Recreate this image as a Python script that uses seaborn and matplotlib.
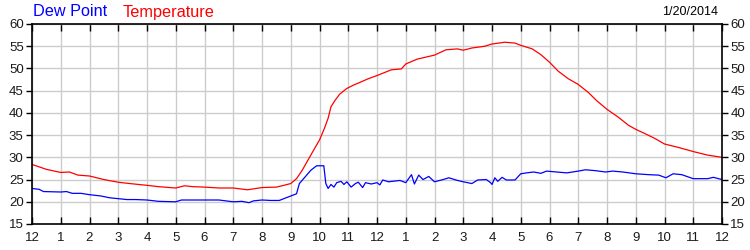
import matplotlib
matplotlib.use("Agg")
import matplotlib.pyplot as plt
import seaborn as sns
import pandas as pd

temp_hours = [0.0, 0.5, 1.0, 1.3, 1.6, 2.0, 2.5, 3.0, 3.4, 4.0, 4.4, 5.0, 5.3, 5.6, 6.0,
              6.5, 7.0, 7.5, 8.0, 8.5, 8.7, 9.0, 9.2, 9.4, 9.6, 9.83, 10.0, 10.17, 10.3,
              10.4, 10.55, 10.7, 10.95, 11.2, 11.35, 11.7, 12.0, 12.5, 12.85, 13.0, 13.4,
              14.0, 14.4, 14.8, 15.0, 15.3, 15.75, 16.0, 16.45, 16.8, 17.0, 17.4, 17.7,
              18.0, 18.3, 18.65, 19.0, 19.35, 19.65, 20.0, 20.4, 20.75, 21.0, 21.3, 21.65,
              22.0, 22.5, 23.0, 23.5, 24.0]
temp_values = [28.4, 27.3, 26.6, 26.7, 26.0, 25.8, 25.0, 24.4, 24.1, 23.7, 23.4, 23.1, 23.6,
               23.4, 23.3, 23.1, 23.1, 22.7, 23.2, 23.3, 23.6, 24.1, 25.2, 27.1, 29.4, 32.0,
               33.9, 36.5, 38.8, 41.4, 42.9, 44.2, 45.5, 46.3, 46.7, 47.7, 48.4, 49.7, 49.9,
               51.0, 52.1, 53.0, 54.2, 54.4, 54.1, 54.6, 55.0, 55.5, 55.9, 55.7, 55.2, 54.4,
               53.1, 51.4, 49.4, 47.7, 46.4, 44.6, 42.7, 40.8, 39.0, 37.2, 36.3, 35.4, 34.3,
               33.0, 32.2, 31.3, 30.5, 30.0]

dew_hours = [0.0, 0.25, 0.4, 1.0, 1.2, 1.4, 1.7, 2.0, 2.4, 2.7, 3.0, 3.3, 3.6, 4.0, 4.4,
             5.0, 5.2, 6.0, 6.5, 7.0, 7.3, 7.55, 7.7, 8.0, 8.3, 8.6, 8.8, 9.0, 9.2, 9.3,
             9.5, 9.7, 9.9, 10.15, 10.22, 10.3, 10.4, 10.5, 10.6, 10.75, 10.85, 10.95,
             11.1, 11.25, 11.35, 11.5, 11.6, 11.8, 12.0, 12.1, 12.2, 12.4, 12.8, 13.0,
             13.2, 13.3, 13.45, 13.6, 13.8, 14.0, 14.3, 14.5, 14.8, 15.0, 15.3, 15.5,
             15.8, 15.95, 16.0, 16.1, 16.2, 16.35, 16.5, 16.8, 17.0, 17.2, 17.45, 17.7,
             17.9, 18.25, 18.6, 19.0, 19.25, 19.6, 19.95, 20.2, 20.55, 21.0, 21.45, 21.8,
             22.05, 22.3, 22.6, 23.0, 23.5, 23.7, 24.0]
dew_values = [23.0, 22.8, 22.3, 22.2, 22.3, 21.9, 21.9, 21.6, 21.3, 20.9, 20.7, 20.5, 20.5,
              20.4, 20.1, 20.0, 20.4, 20.4, 20.4, 20.0, 20.1, 19.8, 20.2, 20.4, 20.3, 20.3,
              20.8, 21.3, 21.8, 24.1, 25.6, 27.1, 28.1, 28.1, 24.1, 23.0, 23.9, 23.3, 24.3,
              24.6, 23.9, 24.5, 23.3, 24.1, 24.4, 23.2, 24.3, 24.0, 24.3, 23.8, 24.9, 24.5,
              24.8, 24.3, 26.1, 24.0, 26.0, 25.0, 25.7, 24.5, 25.0, 25.4, 24.8, 24.5, 24.1,
              24.9, 25.0, 24.3, 23.9, 25.4, 24.6, 25.5, 24.9, 24.9, 26.3, 26.5, 26.7, 26.4,
              26.9, 26.7, 26.5, 26.9, 27.2, 27.0, 26.7, 26.9, 26.7, 26.3, 26.1, 26.0, 25.4,
              26.3, 26.1, 25.2, 25.2, 25.5, 25.0]

hour_ticks = list(range(0, 25))
hour_labels = ["12", "1", "2", "3", "4", "5", "6", "7", "8", "9", "10", "11",
               "12", "1", "2", "3", "4", "5", "6", "7", "8", "9", "10", "11", "12"]
y_ticks = [15, 20, 25, 30, 35, 40, 45, 50, 55, 60]
date_label = "1/20/2014"

sns.set_style("white")
plt.rcParams["font.family"] = ["Liberation Sans", "DejaVu Sans"]

fig = plt.figure(figsize=(7.5, 2.5), dpi=100)
ax = fig.add_axes([32 / 750, 26 / 250, 690 / 750, 200 / 250])

temp_df = pd.DataFrame({"hour": temp_hours, "value": temp_values})
dew_df = pd.DataFrame({"hour": dew_hours, "value": dew_values})
sns.lineplot(data=temp_df, x="hour", y="value", ax=ax, color="#ff0000", linewidth=0.9)
sns.lineplot(data=dew_df, x="hour", y="value", ax=ax, color="#0000ff", linewidth=0.9)

ax.set_xlim(0, 24)
ax.set_ylim(15, 60)
ax.set_xticks(hour_ticks)
ax.set_xticklabels(hour_labels)
ax.set_yticks(y_ticks)
ax.set_xlabel("")
ax.set_ylabel("")
ax.grid(True, color="#cccccc", linewidth=1.0)
ax.set_axisbelow(True)
for s in ax.spines.values():
    s.set_color("black")
    s.set_linewidth(1.2)
ax.tick_params(axis="x", direction="in", top=True, bottom=True, length=5, width=1,
               labelsize=9.5, pad=6, colors="black")
ax.tick_params(axis="y", direction="out", left=True, right=True, labelleft=True,
               labelright=True, length=4, width=1, labelsize=9.5, pad=2, colors="black")
for lbl in ax.get_xticklabels() + ax.get_yticklabels():
    lbl.set_color("#1a1a1a")

fig.text(33 / 750, 1 - 12 / 250, "Dew Point", color="#0000ff", fontsize=11.7, va="center", ha="left")
fig.text(123 / 750, 1 - 12 / 250, "Temperature", color="#ff0000", fontsize=11.7, va="center", ha="left")
fig.text(718 / 750, 1 - 12 / 250, date_label, color="black", fontsize=9, va="center", ha="right")

fig.savefig("out.png", dpi=100)
